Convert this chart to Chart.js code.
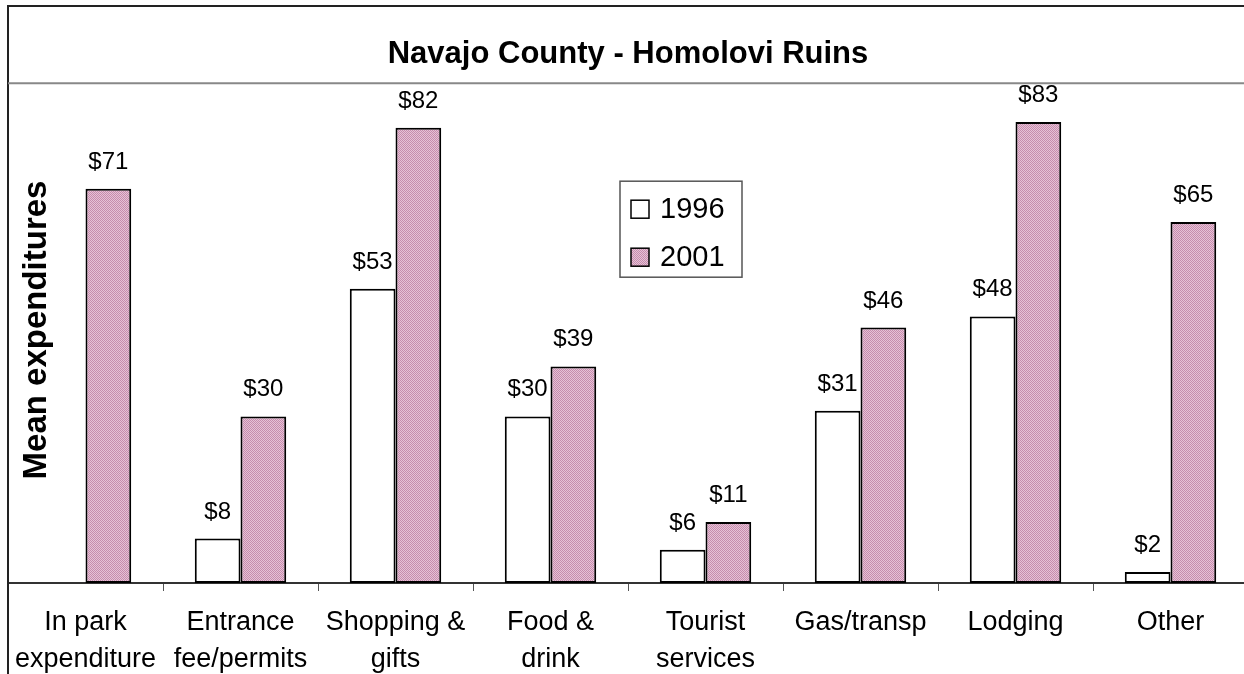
<!DOCTYPE html>
<html>
<head>
<meta charset="utf-8">
<script src="https://cdn.jsdelivr.net/npm/chart.js@4/dist/chart.umd.min.js"></script>
<style>
  html, body { margin: 0; padding: 0; background: #fff; overflow: hidden; }
  #wrap { position: absolute; left: 0; top: 0; width: 1248px; height: 674px; }
</style>
</head>
<body>
<div id="wrap"><canvas id="chart" width="1248" height="674"></canvas></div>
<script>
const categories = [
  ["In park", "expenditure"],
  ["Entrance", "fee/permits"],
  ["Shopping &", "gifts"],
  ["Food &", "drink"],
  ["Tourist", "services"],
  ["Gas/transp"],
  ["Lodging"],
  ["Other"]
];
const values1996 = [null, 8, 53, 30, 6, 31, 48, 2];
const values2001 = [71, 30, 82, 39, 11, 46, 83, 65];
const seriesNames = ["1996", "2001"];

const FONT = "'Liberation Sans', Arial, sans-serif";
const canvas = document.getElementById("chart");
const ctx = canvas.getContext("2d");

// checkered pink fill like the old Excel pattern
const tile = document.createElement("canvas");
tile.width = 2;
tile.height = 2;
const tctx = tile.getContext("2d");
tctx.fillStyle = "#e6c2d6";
tctx.fillRect(0, 0, 2, 2);
tctx.fillStyle = "#c68cad";
tctx.fillRect(0, 0, 1, 1);
tctx.fillRect(1, 1, 1, 1);
const pink = ctx.createPattern(tile, "repeat");

const framePlugin = {
  id: "frame",
  afterDraw(chart) {
    const c = chart.ctx;
    const a = chart.chartArea;
    c.save();
    // outer frame + title box
    c.strokeStyle = "#222";
    c.lineWidth = 2;
    c.beginPath();
    c.moveTo(a.left, chart.height);
    c.lineTo(a.left, 6);
    c.lineTo(chart.width, 6);
    c.stroke();
    c.strokeStyle = "#888";
    c.beginPath();
    c.moveTo(a.left, a.top);
    c.lineTo(chart.width, a.top);
    c.stroke();

    // y axis title, drawn inside the plot frame
    c.fillStyle = "#000";
    c.font = "bold 33px " + FONT;
    c.textAlign = "center";
    c.textBaseline = "middle";
    c.translate(a.left + 29, 330);
    c.rotate(-Math.PI / 2);
    c.fillText("Mean expenditures", 0, 0);
    c.restore();

    // value labels
    c.save();
    c.font = "24px " + FONT;
    c.fillStyle = "#000";
    c.textAlign = "center";
    c.textBaseline = "alphabetic";
    chart.data.datasets.forEach((ds, i) => {
      const meta = chart.getDatasetMeta(i);
      meta.data.forEach((bar, j) => {
        if (ds.data[j] == null) return;
        c.fillText("$" + ds.data[j], bar.x, bar.y - 20);
      });
    });
    c.restore();

    // legend box inside the plot
    c.save();
    const lx = a.left + 612, ly = a.top + 98;
    c.fillStyle = "#fff";
    c.fillRect(lx, ly, 122, 96);
    c.strokeStyle = "#555";
    c.lineWidth = 1.5;
    c.strokeRect(lx, ly, 122, 96);
    c.font = "29px " + FONT;
    c.textAlign = "left";
    c.textBaseline = "middle";
    chart.data.datasets.forEach((ds, i) => {
      const yy = ly + 28 + i * 48;
      c.fillStyle = ds.backgroundColor;
      c.fillRect(lx + 11, yy - 9, 18, 18);
      c.strokeStyle = "#000";
      c.lineWidth = 1.5;
      c.strokeRect(lx + 11, yy - 9, 18, 18);
      c.fillStyle = "#000";
      c.fillText(ds.label, lx + 40, yy + 1);
    });
    c.restore();
  }
};

new Chart(ctx, {
  type: "bar",
  data: {
    labels: categories,
    datasets: [
      {
        label: seriesNames[0],
        data: values1996,
        backgroundColor: "#ffffff",
        borderColor: "#000",
        borderWidth: 2,
        borderSkipped: false
      },
      {
        label: seriesNames[1],
        data: values2001,
        backgroundColor: pink,
        borderColor: "#000",
        borderWidth: 2,
        borderSkipped: false
      }
    ]
  },
  options: {
    responsive: false,
    animation: false,
    layout: { padding: { left: 8, right: 0, top: 6, bottom: -17 } },
    datasets: {
      bar: { categoryPercentage: 0.59, barPercentage: 1.0, skipNull: false }
    },
    plugins: {
      legend: { display: false },
      tooltip: { enabled: false },
      title: {
        display: true,
        text: "Navajo County - Homolovi Ruins",
        color: "#000",
        font: { family: FONT, size: 31, weight: "bold" },
        padding: { top: 30, bottom: 10 }
      }
    },
    scales: {
      x: {
        grid: {
          display: true,
          drawOnChartArea: false,
          drawTicks: true,
          tickLength: 8,
          color: "#555",
          offset: true
        },
        border: { display: true, color: "#333", width: 2 },
        ticks: {
          color: "#000",
          font: { family: FONT, size: 27, lineHeight: "37px" },
          padding: 13,
          maxRotation: 0,
          autoSkip: false
        }
      },
      y: {
        display: false,
        min: 0,
        max: 90
      }
    }
  },
  plugins: [framePlugin]
});
</script>
</body>
</html>
